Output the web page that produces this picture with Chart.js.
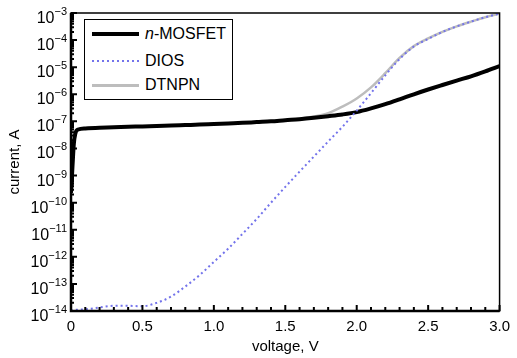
<!DOCTYPE html>
<html>
<head>
<meta charset="utf-8">
<script src="https://cdn.jsdelivr.net/npm/chart.js@4.4.0/dist/chart.umd.min.js"></script>
<style>
  body { margin: 0; background: #fff; }
  #wrap { position: relative; width: 517px; height: 358px; }
  #legend {
    position: absolute; left: 84px; top: 19px; width: 149px; height: 81px;
    box-sizing: border-box; border: 1.5px solid #000; background: #fff;
    font-family: 'Liberation Sans', Arial, sans-serif; font-size: 16px; color: #000;
  }
  .item { position: absolute; left: 0; width: 100%; height: 0; }
  .sw { position: absolute; left: 7px; width: 47px; }
  .lab { position: absolute; left: 60px; top: -10px; line-height: 20px; white-space: nowrap; }
</style>
</head>
<body>
<div id="wrap">
  <canvas id="chart" width="517" height="358"></canvas>
  <div id="legend">
    <div class="item" style="top:14px">
      <div class="sw" style="top:-2px;height:4px;background:#000"></div>
      <div class="lab"><i>n</i>-MOSFET</div>
    </div>
    <div class="item" style="top:41px">
      <div class="sw" style="top:-1px;height:2px;background:repeating-linear-gradient(to right, rgb(115,115,235) 0 2px, transparent 2px 5px)"></div>
      <div class="lab">DIOS</div>
    </div>
    <div class="item" style="top:65px">
      <div class="sw" style="top:-1.5px;height:3px;background:#bdbdbd"></div>
      <div class="lab">DTNPN</div>
    </div>
  </div>
</div>
<script>
// voltage sweep (V)
const voltage = [0, 0.01, 0.02, 0.03, 0.05, 0.1, 0.2, 0.3, 0.4, 0.5, 0.6, 0.7, 0.8, 0.9, 1.0,
  1.1, 1.2, 1.3, 1.4, 1.5, 1.6, 1.7, 1.8, 1.9, 2.0, 2.1, 2.2, 2.3, 2.4, 2.5, 2.6, 2.7, 2.8, 2.9, 3.0];

// current (A)
const nMosfet = [2.3e-10, 2e-9, 1.5e-8, 3.5e-8, 5e-8, 5.5e-8, 5.8e-8, 6e-8, 6.3e-8, 6.5e-8, 6.8e-8, 7e-8, 7.3e-8, 7.6e-8, 8e-8,
  8.4e-8, 8.8e-8, 9.4e-8, 1e-7, 1.1e-7, 1.2e-7, 1.35e-7, 1.55e-7, 1.8e-7, 2.2e-7, 3e-7, 4.3e-7, 6.5e-7, 1e-6, 1.5e-6, 2.2e-6, 3.2e-6, 4.6e-6, 7e-6, 1.1e-5];
const dios = [1e-14, 1.05e-14, 1.08e-14, 1.1e-14, 1.12e-14, 1.15e-14, 1.35e-14, 1.55e-14, 1.55e-14, 1.5e-14, 2e-14, 3.4e-14, 8e-14, 2.1e-13, 6.5e-13,
  2e-12, 7e-12, 2.5e-11, 1e-10, 3.8e-10, 1.4e-9, 5e-9, 1.8e-8, 6.3e-8, 2.5e-7, 1.1e-6, 5e-6, 2e-5, 5.8e-5, 1.1e-4, 2e-4, 3.2e-4, 4.8e-4, 7e-4, 9.5e-4];
const dtnpn = [2.3e-10, 2e-9, 1.5e-8, 3.5e-8, 5e-8, 5.5e-8, 5.8e-8, 6e-8, 6.3e-8, 6.5e-8, 6.8e-8, 7e-8, 7.3e-8, 7.6e-8, 8e-8,
  8.4e-8, 8.8e-8, 9.4e-8, 1e-7, 1.1e-7, 1.25e-7, 1.5e-7, 2e-7, 3.5e-7, 7e-7, 1.8e-6, 6e-6, 2.2e-5, 6e-5, 1.15e-4, 2e-4, 3.2e-4, 4.8e-4, 7e-4, 9.5e-4];

const yTickExponents = [-14, -13, -12, -11, -10, -9, -8, -7, -6, -5, -4, -3];
const xTickValues = [0, 0.5, 1.0, 1.5, 2.0, 2.5, 3.0];

const FONT = "'Liberation Sans', Arial, sans-serif";

const toPoints = (ys) => ys.map((y, i) => ({ x: voltage[i], y: y }));

// box round the plot area, inward ticks and the 10^n labels
const framePlugin = {
  id: 'frame',
  afterDraw(chart) {
    const ctx = chart.ctx;
    const a = chart.chartArea;
    const xs = chart.scales.x, ys = chart.scales.y;
    ctx.save();
    ctx.strokeStyle = '#000';
    ctx.lineWidth = 1.5;
    ctx.strokeRect(a.left, a.top, a.right - a.left, a.bottom - a.top);
    ctx.lineWidth = 2.5;
    ctx.beginPath();
    ctx.moveTo(a.left, a.top);
    ctx.lineTo(a.left, a.bottom);
    ctx.lineTo(a.right, a.bottom);
    ctx.stroke();

    ctx.lineWidth = 2;
    ctx.beginPath();
    for (let i = 0; i <= 30; i++) {
      const px = xs.getPixelForValue(i / 10);
      const len = i % 5 === 0 ? 6 : 4;
      ctx.moveTo(px, a.bottom);
      ctx.lineTo(px, a.bottom - len);
    }
    yTickExponents.forEach((e) => {
      const py = ys.getPixelForValue(Number('1e' + e));
      ctx.moveTo(a.left, py);
      ctx.lineTo(a.left + 6, py);
      if (e < -3) {
        for (let m = 2; m <= 9; m++) {
          const pm = ys.getPixelForValue(m * Number('1e' + e));
          ctx.moveTo(a.left, pm);
          ctx.lineTo(a.left + 3, pm);
        }
      }
    });
    ctx.stroke();

    // tick labels: "10" with a raised exponent
    ctx.fillStyle = '#000';
    ctx.textBaseline = 'alphabetic';
    ctx.textAlign = 'left';
    const right = a.left - 4;
    yTickExponents.forEach((e) => {
      const py = ys.getPixelForValue(Number('1e' + e));
      const exp = '\u2212' + String(-e);
      ctx.font = '11px ' + FONT;
      const we = ctx.measureText(exp).width;
      ctx.font = '16px ' + FONT;
      const wb = ctx.measureText('10').width;
      const x0 = right - we - wb;
      ctx.fillText('10', x0, py + 10);
      ctx.font = '11px ' + FONT;
      ctx.fillText(exp, x0 + wb, py + 2);
    });
    ctx.restore();
  }
};

new Chart(document.getElementById('chart'), {
  type: 'line',
  data: {
    datasets: [
      {
        label: 'n-MOSFET',
        data: toPoints(nMosfet),
        borderColor: '#000',
        borderWidth: 4,
        order: 1
      },
      {
        label: 'DIOS',
        data: toPoints(dios),
        borderColor: 'rgb(115,115,235)',
        borderWidth: 2,
        borderDash: [2, 3],
        order: 0
      },
      {
        label: 'DTNPN',
        data: toPoints(dtnpn),
        borderColor: '#bdbdbd',
        borderWidth: 2.5,
        order: 2
      }
    ]
  },
  options: {
    responsive: false,
    animation: false,
    devicePixelRatio: 1,
    parsing: false,
    elements: {
      point: { radius: 0 },
      line: { cubicInterpolationMode: 'monotone', fill: false }
    },
    layout: { padding: { top: 13, right: 13, left: 0, bottom: 0 } },
    plugins: { legend: { display: false }, tooltip: { enabled: false } },
    scales: {
      x: {
        type: 'linear',
        min: 0,
        max: 3,
        afterBuildTicks: (s) => { s.ticks = xTickValues.map((v) => ({ value: v })); },
        afterFit: (s) => { s.height = 47; },
        grid: { display: false, drawTicks: false },
        border: { display: false },
        ticks: {
          color: '#000',
          padding: 7,
          maxRotation: 0,
          font: { family: FONT, size: 15 },
          callback: (v) => (v === 0 ? '0' : Number(v).toFixed(1))
        },
        title: {
          display: true,
          text: 'voltage, V',
          color: '#000',
          font: { family: FONT, size: 15 },
          padding: { top: 0, bottom: 2 }
        }
      },
      y: {
        type: 'logarithmic',
        min: 1e-14,
        max: 1e-3,
        afterBuildTicks: (s) => { s.ticks = yTickExponents.map((e) => ({ value: Number('1e' + e) })); },
        afterFit: (s) => { s.width = 71; },
        grid: { display: false, drawTicks: false },
        border: { display: false },
        ticks: { display: false },
        title: {
          display: true,
          text: 'current, A',
          color: '#000',
          font: { family: FONT, size: 15 },
          padding: { top: 6, bottom: 0 }
        }
      }
    }
  },
  plugins: [framePlugin]
});
</script>
</body>
</html>
